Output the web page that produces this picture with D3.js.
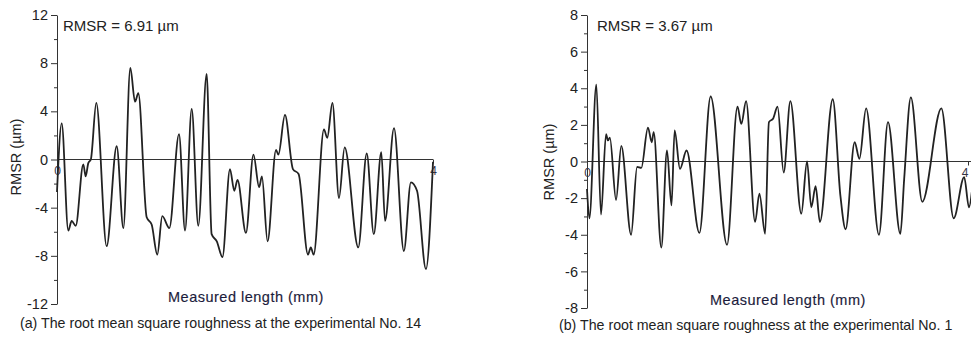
<!DOCTYPE html>
<html>
<head>
<meta charset="utf-8">
<script src="https://cdn.jsdelivr.net/npm/d3@7"></script>
<style>
  body { margin: 0; background: #fff; }
  svg { display: block; font-family: "Liberation Sans", Arial, sans-serif; }
</style>
</head>
<body>
<svg id="chart" width="971" height="340"></svg>
<script>
// profile (a) - experimental No. 14, extrema
const profileA_x = [0, 0.05, 0.12, 0.156, 0.199, 0.28, 0.305, 0.333, 0.36, 0.418, 0.528, 0.635, 0.706, 0.78, 0.83, 0.865,
  0.954, 1.007, 1.067, 1.12, 1.195, 1.298, 1.362, 1.433, 1.503, 1.592, 1.645, 1.70, 1.76, 1.84, 1.886, 1.92, 2.01,
  2.09, 2.15, 2.18, 2.24, 2.33, 2.355, 2.425, 2.51, 2.57, 2.67, 2.70, 2.73, 2.84, 2.875, 2.93, 3.0, 3.06, 3.205,
  3.295, 3.37, 3.45, 3.49, 3.585, 3.69, 3.765, 3.83, 3.925, 4.0];
const profileA_y = [-2.7, 3.0, -5.9, -5.1, -5.5, -0.4, -1.4, -0.3, 0, 4.7, -7.2, 1.1, -5.7, 7.6, 4.8, 5.5,
  -4.8, -5.4, -7.9, -4.7, -5.7, 2.1, -5.9, 4.2, -5.5, 7.1, -6.2, -6.8, -8.1, -0.8, -2.6, -1.7, -6.1,
  0.4, -2.3, -1.4, -6.8, 0.8, 0.4, 3.7, -0.8, -1.2, -7.9, -7.3, -7.9, 2.5, 1.8, 4.7, -3.2, 1.0, -7.3,
  0.5, -6.2, 0.6, -5.1, 2.6, -7.6, -1.9, -2.6, -9.1, -0.2];

// profile (b) - experimental No. 1
const profileB_x = [0, 0.025, 0.098, 0.147, 0.2, 0.22, 0.24, 0.305, 0.36, 0.463, 0.526, 0.57, 0.64, 0.68, 0.70,
  0.78, 0.84, 0.887, 0.92, 0.976, 1.045, 1.18, 1.298, 1.47, 1.58, 1.62, 1.67, 1.765, 1.81, 1.87, 1.91, 1.955, 2.0,
  2.065, 2.135, 2.25, 2.31, 2.355, 2.40, 2.445, 2.58, 2.66, 2.715, 2.81, 2.86, 2.93, 3.065, 3.16, 3.29, 3.33,
  3.40, 3.52, 3.72, 3.85, 3.96, 4.01, 4.05];
const profileB_y = [-1.5, -3.1, 4.2, -2.9, 1.5, 1.15, 1.3, -2.1, 0.85, -4.0, -0.3, -0.35, 1.85, 1.05, 1.6,
  -4.7, 0.6, -2.4, 1.7, -0.4, 0.6, -3.9, 3.55, -4.55, 3.0, 2.05, 3.3, -3.3, -1.75, -3.95, 2.15, 2.35, 3.0,
  -0.6, 3.3, -2.85, 0, -2.5, -1.35, -3.3, 3.4, -1.85, -3.7, 1.05, 0.15, 2.9, -4.0, 2.15, -3.95, -0.95,
  3.5, -2.2, 2.9, -3.1, -0.85, -2.5, -1.2];

const ticksA = [-12, -8, -4, 0, 4, 8, 12];
const ticksB = [-8, -6, -4, -2, 0, 2, 4, 6, 8];
const xTicks = [0, 4];

const svg = d3.select("#chart");
const plain = d => String(d); // hyphen minus, no decimals

function drawPanel(p) {
  const x = d3.scaleLinear().domain([0, 4]).range([p.left, p.right]);
  const y = d3.scaleLinear().domain(p.yDomain).range([p.bottom, p.top]);
  const g = svg.append("g");

  // minor ticks
  const minor = [];
  for (let i = 0; i < p.ticks.length - 1; i++) minor.push((p.ticks[i] + p.ticks[i + 1]) / 2);
  g.append("g")
    .attr("transform", `translate(${p.left},0)`)
    .call(d3.axisLeft(y).tickValues(minor).tickSize(3).tickFormat(""))
    .call(a => a.select(".domain").remove())
    .selectAll("line").attr("stroke", "#333");

  const ya = g.append("g")
    .attr("transform", `translate(${p.left},0)`)
    .call(d3.axisLeft(y).tickValues(p.ticks).tickSize(6).tickSizeOuter(0).tickPadding(3).tickFormat(plain));
  ya.select(".domain").attr("stroke", "#333");
  ya.selectAll("line").attr("stroke", "#333");
  ya.selectAll("text").attr("font-size", 14.5).attr("fill", "#222")
    .attr("font-family", "Liberation Sans, Arial, sans-serif");

  // x axis through zero
  const xa = g.append("g")
    .attr("transform", `translate(0,${y(0)})`)
    .call(d3.axisBottom(x).tickValues(xTicks).tickSize(4).tickSizeOuter(0).tickPadding(3).tickFormat(plain));
  xa.select(".domain").attr("stroke", "#333").attr("d", `M${p.left},0H${p.axisEnd}`);
  xa.selectAll("line").attr("stroke", "#333").attr("opacity", (d, i) => i === 0 ? 0 : 1);
  xa.selectAll("text").attr("font-size", 12).attr("fill", "#334")
    .attr("font-family", "Liberation Sans, Arial, sans-serif")
    .attr("text-anchor", (d, i) => i === 1 ? p.lastAnchor : "middle");

  const line = d3.line()
    .x(d => x(d[0]))
    .y(d => y(d[1]))
    .curve(d3.curveMonotoneX);

  g.append("path")
    .datum(d3.zip(p.xs, p.ys))
    .attr("fill", "none")
    .attr("stroke", "#222")
    .attr("stroke-width", 1.8)
    .attr("d", line);

  g.append("text")
    .attr("x", p.left + p.noteDx).attr("y", 31)
    .attr("font-size", 15).attr("fill", "#222")
    .text(p.note);

  g.append("text")
    .attr("transform", `translate(${p.titleX},${p.titleY}) rotate(-90)`)
    .attr("text-anchor", "middle")
    .attr("font-size", 14.5).attr("fill", "#222")
    .text("RMSR (µm)");

  g.append("text")
    .attr("x", p.xTitleX).attr("y", p.xTitleY)
    .attr("font-size", 14.5).attr("letter-spacing", 0.5).attr("fill", "#1c1c3c")
    .attr("stroke", "#1c1c3c").attr("stroke-width", 0.15)
    .text("Measured length (mm)");

  g.append("text")
    .attr("x", p.capX).attr("y", p.capY)
    .attr("font-size", 14.2).attr("fill", "#222")
    .text(p.caption);
}

drawPanel({
  left: 57, right: 433, top: 15, bottom: 304, axisEnd: 433, lastAnchor: "middle",
  yDomain: [-12, 12], ticks: ticksA,
  xs: profileA_x, ys: profileA_y,
  note: "RMSR = 6.91 µm", noteDx: 6,
  titleX: 21, titleY: 157,
  xTitleX: 168, xTitleY: 302,
  capX: 20, capY: 328,
  caption: "(a) The root mean square roughness at the experimental No. 14"
});

drawPanel({
  left: 587, right: 968, top: 15, bottom: 308, axisEnd: 980, lastAnchor: "end",
  yDomain: [-8, 8], ticks: ticksB,
  xs: profileB_x, ys: profileB_y,
  note: "RMSR = 3.67 µm", noteDx: 10,
  titleX: 554, titleY: 162,
  xTitleX: 710, xTitleY: 305,
  capX: 559, capY: 330,
  caption: "(b) The root mean square roughness at the experimental No. 1"
});
</script>
</body>
</html>
